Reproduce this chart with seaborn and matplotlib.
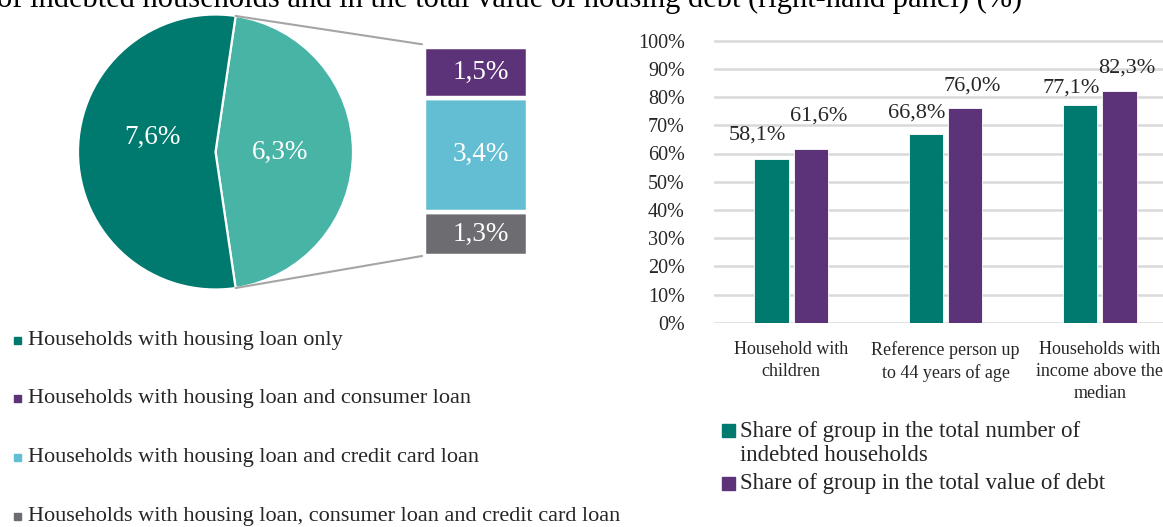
import matplotlib
matplotlib.use("Agg")
import matplotlib.pyplot as plt
from matplotlib.patches import Rectangle, ConnectionPatch
import numpy as np
import pandas as pd
import seaborn as sns

# ---- data -------------------------------------------------------------
pie_values = [6.3, 7.6]                      # other combinations, housing loan only
sub_values = [1.5, 3.4, 1.3]                 # breakdown of "other", top to bottom
pie_legend = [
    "Households with housing loan only",
    "Households with housing loan and consumer loan",
    "Households with housing loan and credit card loan",
    "Households with housing loan, consumer loan and credit card loan",
]
groups = [
    "Household with\nchildren",
    "Reference person up\nto 44 years of age",
    "Households with\nincome above the\nmedian",
]
share_households = [58.1, 66.8, 77.1]
share_debt = [61.6, 76.0, 82.3]
series_names = [
    "Share of group in the total number of\nindebted households",
    "Share of group in the total value of debt",
]
y_ticks = list(range(0, 101, 10))
title = ("of indebted households and in the total value of housing debt "
         "(right-hand panel) (%)")

# ---- style ------------------------------------------------------------
TEAL = "#007A6F"
TEAL_LIGHT = "#47B4A6"
PURPLE = "#5C3379"
CYAN = "#63BED3"
GREY = "#6D6C71"
GRID = "#D9D9D9"
LINK = "#A5A5A5"

sns.set_style("white")
plt.rcParams["font.family"] = ["Liberation Serif", "DejaVu Serif"]

W, H = 1163, 527
fig = plt.figure(figsize=(W / 100, H / 100), dpi=100)


def fx(x):
    return x / W


def fy(y):
    return 1 - y / H


def fmt(v):
    return f"{v:.1f}".replace(".", ",") + "%"


# ---- caption line running off the top edge ------------------------------
fig.text(fx(-3), fy(7), title, fontsize=22, va="baseline", ha="left", color="black")

# ---- pie --------------------------------------------------------------
cx, cy, r = 215.5, 152, 137.5
ax_pie = fig.add_axes([fx(cx - r), fy(cy + r), 2 * r / W, 2 * r / H])
half = pie_values[0] / sum(pie_values) * 360 / 2
wedges, _ = ax_pie.pie(
    pie_values, colors=[TEAL_LIGHT, TEAL], startangle=-half, counterclock=True,
    radius=1, wedgeprops=dict(edgecolor="white", linewidth=1.6),
)
ax_pie.set_xlim(-1, 1)
ax_pie.set_ylim(-1, 1)
nudge = [0, -13.3]
for w, v, dn in zip(wedges, pie_values, nudge):
    mid = np.deg2rad((w.theta1 + w.theta2) / 2 + dn)
    ax_pie.text(0.47 * np.cos(mid), 0.47 * np.sin(mid), fmt(v), color="white",
                fontsize=19.5, ha="center", va="center")
ax_pie.axis("off")

# ---- breakdown bar -------------------------------------------------------
sx0, sy0, sw, sh = 423.5, 47, 104.5, 209
ax_sub = fig.add_axes([fx(sx0), fy(sy0 + sh), sw / W, sh / H])
ax_sub.set_xlim(0, 1)
ax_sub.set_ylim(0, sum(sub_values))
bottom = 0
for v, c in zip(sub_values[::-1], [GREY, CYAN, PURPLE]):
    ax_sub.bar(0.5, v, width=1, bottom=bottom, color=c, edgecolor="white", linewidth=3.2)
    ax_sub.text(0.55, bottom + v / 2, fmt(v), color="white", fontsize=19.5,
                ha="center", va="center")
    bottom += v
ax_sub.axis("off")

# connector lines from the pie split to the breakdown bar
a_top = np.deg2rad(half)
for ang, yb in [(a_top, 1.013), (-a_top, 0.0)]:
    con = ConnectionPatch(xyA=(np.cos(ang), np.sin(ang)), coordsA=ax_pie.transData,
                          xyB=(-0.014, yb), coordsB=ax_sub.transAxes,
                          color=LINK, linewidth=1.5)
    fig.add_artist(con)

# pie legend
for i, (lab, c) in enumerate(zip(pie_legend, [TEAL, PURPLE, CYAN, GREY])):
    yc = 340 + i * 58.9
    fig.patches.append(Rectangle((fx(13.7), fy(yc + 3.5)), 7 / W, 7 / H,
                                 transform=fig.transFigure, color=c))
    fig.text(fx(28), fy(yc), lab, fontsize=16, va="center", ha="left")

# ---- grouped bars -------------------------------------------------------
df = pd.DataFrame({
    "group": groups * 2,
    "value": share_households + share_debt,
    "series": [series_names[0]] * 3 + [series_names[1]] * 3,
})
bx0, bx1 = 714, 1177
by0, by100 = 322.7, 40.7
top_px = (by0 - by100) * 1.01
ax = fig.add_axes([fx(bx0), fy(by0), (bx1 - bx0) / W, top_px / H])
sns.barplot(data=df, x="group", y="value", hue="series", palette=[TEAL, PURPLE],
            width=0.51, gap=0.12, ax=ax, legend=False, edgecolor="white",
            linewidth=0.6, saturation=1)
ax.set_xlim(-0.5, 2.5)
ax.set_ylim(0, 101)
ax.set_yticks(y_ticks)
ax.set_yticklabels([f"{t}%" for t in y_ticks], fontsize=14.5)
ax.set_xlabel("")
ax.set_ylabel("")
ax.tick_params(axis="y", length=0, pad=21)
ax.tick_params(axis="x", length=0, pad=13, labelsize=13)
for t in ax.get_xticklabels():
    t.set_linespacing(1.4)
ax.yaxis.grid(True, color=GRID, linewidth=1.8)
ax.set_axisbelow(True)
for s in ax.spines.values():
    s.set_visible(False)

offsets = [[(-14, 24), (-9, 21), (-9, 17.6)], [(8, 33), (7, 22), (7.5, 23)]]
for cont, offs in zip(ax.containers, offsets):
    for bar, (dx, dy) in zip(cont, offs):
        ax.annotate(fmt(bar.get_height()),
                    xy=(bar.get_x() + bar.get_width() / 2, bar.get_height()),
                    xytext=(dx, dy), textcoords="offset pixels",
                    ha="center", va="center", fontsize=16)

# bar legend
fig.patches.append(Rectangle((fx(722), fy(436.5)), 13 / W, 13 / H,
                             transform=fig.transFigure, color=TEAL))
fig.text(fx(740), fy(443.4), series_names[0], fontsize=16.5, va="center",
         ha="left", linespacing=1.17)
fig.patches.append(Rectangle((fx(722), fy(489.5)), 13 / W, 13 / H,
                             transform=fig.transFigure, color=PURPLE))
fig.text(fx(740), fy(483), series_names[1], fontsize=16.5, va="center", ha="left")

fig.savefig("out.png", dpi=100)
